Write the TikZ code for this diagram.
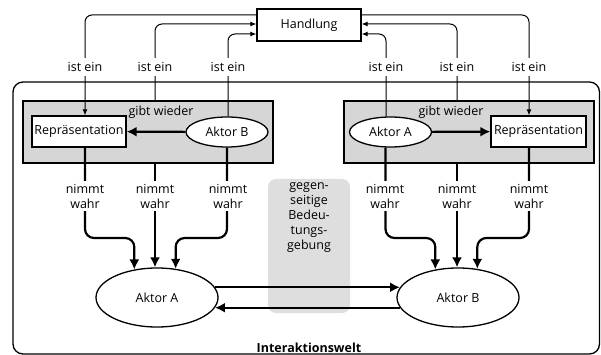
\documentclass[tikz,border=0pt]{standalone}
\usepackage{fontspec}
\setmainfont{Open Sans}
\usetikzlibrary{arrows.meta,shapes.geometric}
\definecolor{boxgray}{HTML}{D6D6D6}
\definecolor{midgray}{HTML}{DEDEDE}
\tikzset{
  every node/.style={font=\fontsize{12.5}{15}\selectfont},
  box/.style={draw,line width=1.3pt,fill=white,minimum height=31pt,inner sep=2pt},
  ell/.style={draw,ellipse,line width=1.3pt,fill=white,minimum width=82pt,minimum height=30pt,inner sep=0pt},
  bigell/.style={draw,ellipse,line width=1.3pt,fill=white,minimum width=122pt,minimum height=59pt,inner sep=0pt},
  graybox/.style={draw,line width=1.4pt,fill=boxgray,minimum width=250pt,minimum height=62pt,inner sep=0pt},
  thinline/.style={line width=1pt,rounded corners=7pt},
  thinarrow/.style={thinline,-{Latex[length=6pt,width=5pt]}},
  thickarrow/.style={line width=2.2pt,rounded corners=9pt,-{Latex[length=10pt,width=10pt]}},
  thickline/.style={line width=2.2pt},
  lbl/.style={fill=white,inner sep=3pt,align=center},
}
\begin{document}
\begin{tikzpicture}[x=1pt,y=-1pt]
\useasboundingbox (0,0) rectangle (601,355);
% frame
\draw[line width=1.3pt,rounded corners=10pt] (13,82) rectangle (599.5,354);
% gray boxes
\node[graybox] (GL) at (148,132) {};
\node[graybox] (GR) at (469,132) {};
\node[draw=none,fill=midgray,rounded corners=8pt,minimum width=82pt,minimum height=134pt] (M) at (309,246) {};
\node[align=center] (Mt) at (309,218) {gegen-\\seitige\\Bedeu-\\tungs-\\gebung};
% nodes
\node[box,minimum width=104pt,minimum height=32pt] (H) at (309,25) {Handlung};
\node[box,minimum width=94pt] (RL) at (79,131.5) {Repräsentation};
\node[ell] (BL) at (227,132) {Aktor B};
\node[ell] (AR) at (390.5,132) {Aktor A};
\node[box,minimum width=95pt] (RR) at (538.5,131.5) {Repräsentation};
\node[bigell] (A) at (157,297.5) {Aktor A};
\node[bigell] (B) at (458,297.5) {Aktor B};
\node (gwL) at (161,112) {gibt wieder};
\node (gwR) at (451,112) {gibt wieder};
\node[font=\fontsize{12.5}{15}\selectfont\bfseries] (iw) at (309,348) {Interaktionswelt};
% inner arrows
\draw[thickline,-{Latex[length=10pt,width=10pt]}] (BL) -- (RL);
\draw[thickline,-{Latex[length=10pt,width=10pt]}] (AR) -- (RR);
% ist ein connectors
\draw[thinarrow] ([yshift=10pt]H.west) -| ([xshift=6pt]RL.north);
\draw[thinarrow] ([xshift=7pt]GL.north) |- ([yshift=1pt]H.west);
\draw[thinarrow] ([xshift=1pt]BL.north) |- ([yshift=-9pt]H.west);
\draw[thinarrow] ([xshift=-4.5pt]AR.north) |- ([yshift=-9pt]H.east);
\draw[thinarrow] ([xshift=-12pt]GR.north) |- ([yshift=1pt]H.east);
\draw[thinarrow] ([yshift=10pt]H.east) -| ([xshift=-9.5pt]RR.north);
\foreach \x/\n in {85/i1,155/i2,228/i3,386/i4,457/i5,529/i6}
  \node[lbl,inner sep=4pt] (\n) at (\x,67) {ist ein};
% nimmt wahr connectors
\coordinate (kink) at (0,238);
\draw[thickarrow] ([xshift=6pt]RL.south) |- (kink -| A.129) -- (A.129);
\draw[thickarrow] ([xshift=7pt]GL.south) -- ([xshift=7pt]GL.south |- A.north);
\draw[thickarrow] (BL.south) |- (kink -| A.57) -- (A.57);
\draw[thickarrow] ([xshift=-5pt]AR.south) |- (kink -| B.129) -- (B.129);
\draw[thickarrow] ([xshift=-12pt]GR.south) -- ([xshift=-12pt]GR.south |- B.north);
\draw[thickarrow] ([xshift=-9.5pt]RR.south) |- (kink -| B.56) -- (B.56);
\foreach \x/\n in {85/n1,155/n2,228/n3,385/n4,457/n5,529/n6}
  \node[lbl,inner sep=3pt] (\n) at (\x,196) {nimmt\\wahr};
% mutual arrows
\draw[thickline,-{Latex[length=10pt,width=10pt]}] (A.10) -- (B.170);
\draw[thickline,-{Latex[length=10pt,width=10pt]}] (B.190) -- (A.-10);
\end{tikzpicture}
\end{document}
